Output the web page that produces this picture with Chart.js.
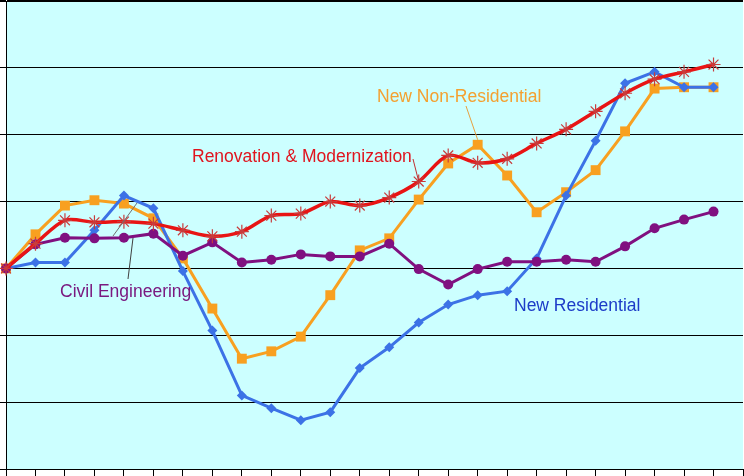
<!DOCTYPE html>
<html><head><meta charset="utf-8">
<script src="https://cdn.jsdelivr.net/npm/chart.js@4.4.1/dist/chart.umd.min.js"></script>
<style>html,body{margin:0;padding:0;background:#fff;overflow:hidden}</style>
</head><body>
<canvas id="c" width="744" height="476" style="display:block;width:744px;height:476px"></canvas>
<script>
// x positions (26 period ticks, data for the first 25)
const periods = ['1','2','3','4','5','6','7','8','9','10','11','12','13','14','15','16','17','18','19','20','21','22','23','24','25','26'];
const yTicks = [70, 80, 90, 100, 110, 120, 130, 140];

const newResidential = [100, 100.9, 100.9, 105.7, 110.9, 109.0, 99.6, 90.7, 81.0, 79.1, 77.3, 78.5, 85.1, 88.2, 91.9, 94.6, 96.0, 96.6, 101.5, 110.9, 119.1, 127.7, 129.4, 127.1, 127.1];
const newNonResidential = [100, 105.1, 109.4, 110.2, 109.7, 107.5, 101.5, 94.0, 86.5, 87.6, 89.8, 96.0, 102.7, 104.5, 110.3, 115.7, 118.5, 113.9, 108.4, 111.4, 114.7, 120.5, 126.9, 127.1, 127.1];
const renovation = [100, 103.7, 107.2, 106.9, 107.0, 106.7, 105.7, 104.8, 105.5, 107.9, 108.2, 110.0, 109.4, 110.6, 113.0, 116.9, 115.8, 116.4, 118.7, 120.8, 123.5, 126.2, 128.3, 129.4, 130.5];
const civilEngineering = [100, 103.6, 104.6, 104.5, 104.6, 105.2, 101.9, 103.9, 100.9, 101.3, 102.1, 101.8, 101.8, 103.7, 99.9, 97.6, 99.9, 101.0, 101.0, 101.3, 101.0, 103.3, 106.0, 107.3, 108.5];

const FONT = '17.5px "Liberation Sans", Arial, sans-serif';

const bgPlugin = {
  id: 'bg',
  beforeDraw(chart) {
    const {ctx, chartArea: a} = chart;
    ctx.save();
    ctx.fillStyle = '#ccffff';
    ctx.fillRect(a.left, a.top, a.right - a.left, a.bottom - a.top);
    ctx.restore();
  }
};

const labelPlugin = {
  id: 'labels',
  afterDatasetsDraw(chart) {
    const {ctx, scales: {x, y}} = chart;
    const pt = (i, v) => [x.getPixelForValue(i), y.getPixelForValue(v)];
    ctx.save();
    ctx.lineWidth = 1;
    // leader lines
    let p = pt(16, newNonResidential[16]);
    ctx.strokeStyle = '#e8a040';
    ctx.beginPath(); ctx.moveTo(466, 106); ctx.lineTo(p[0], p[1] - 5); ctx.stroke();
    p = pt(14, renovation[14]);
    ctx.strokeStyle = '#c03030';
    ctx.beginPath(); ctx.moveTo(413, 159); ctx.lineTo(p[0], p[1]); ctx.stroke();
    ctx.strokeStyle = '#404040';
    ctx.beginPath(); ctx.moveTo(128, 279); ctx.lineTo(133, 238); ctx.stroke();
    ctx.strokeStyle = '#707070';
    ctx.beginPath(); ctx.moveTo(113, 236); ctx.lineTo(137, 203); ctx.stroke();
    // texts
    ctx.font = FONT;
    ctx.textBaseline = 'alphabetic';
    ctx.textAlign = 'left';
    ctx.fillStyle = '#f4a030'; ctx.fillText('New Non-Residential', 377, 102);
    ctx.fillStyle = '#e0141e'; ctx.fillText('Renovation & Modernization', 192, 162);
    ctx.fillStyle = '#7a1a80'; ctx.fillText('Civil Engineering', 60, 297);
    ctx.fillStyle = '#1c3cc8'; ctx.fillText('New Residential', 514, 311);
    ctx.restore();
  }
};

new Chart(document.getElementById('c'), {
  type: 'line',
  data: {
    labels: periods,
    datasets: [
      {
        label: 'Renovation & Modernization', data: renovation, order: 1,
        borderColor: '#e81414', borderWidth: 3.5, tension: 0.3,
        pointStyle: 'star', pointRadius: 7, pointBorderColor: '#c83c3c', pointBorderWidth: 1.2,
        pointBackgroundColor: '#c83c3c'
      },
      {
        label: 'Civil Engineering', data: civilEngineering, order: 2,
        borderColor: '#801080', borderWidth: 3, tension: 0,
        pointStyle: 'circle', pointRadius: 5, pointBackgroundColor: '#801080', pointBorderColor: '#801080', pointBorderWidth: 0
      },
      {
        label: 'New Residential', data: newResidential, order: 3,
        borderColor: '#3c72e6', borderWidth: 3, tension: 0,
        pointStyle: 'rectRot', pointRadius: 5, pointBackgroundColor: '#3c72e6', pointBorderColor: '#3c72e6', pointBorderWidth: 0
      },
      {
        label: 'New Non-Residential', data: newNonResidential, order: 4,
        borderColor: '#f8a020', borderWidth: 3, tension: 0,
        pointStyle: 'rect', pointRadius: 7, pointBackgroundColor: '#f8a020', pointBorderColor: '#f8a020', pointBorderWidth: 0
      }
    ]
  },
  options: {
    responsive: false,
    animation: false,
    devicePixelRatio: 1,
    layout: {autoPadding: false, padding: {top: 1, right: 1, left: 0, bottom: 0}},
    plugins: {legend: {display: false}, tooltip: {enabled: false}},
    scales: {
      x: {
        type: 'category', offset: false,
        border: {display: true, color: '#000', width: 1},
        grid: {drawOnChartArea: false, drawTicks: true, tickLength: 7, color: '#000', lineWidth: 1},
        ticks: {display: false, autoSkip: false}
      },
      y: {
        min: yTicks[0], max: yTicks[yTicks.length - 1],
        afterBuildTicks: (s) => { s.ticks = yTicks.map(v => ({value: v})); },
        border: {display: true, color: '#000', width: 1},
        grid: {
          drawTicks: true, tickLength: 6, color: '#000',
          lineWidth: (c) => (c.tick && c.tick.value === yTicks[yTicks.length - 1]) ? 2 : 1
        },
        ticks: {display: false}
      }
    }
  },
  plugins: [bgPlugin, labelPlugin]
});
</script>
</body></html>
